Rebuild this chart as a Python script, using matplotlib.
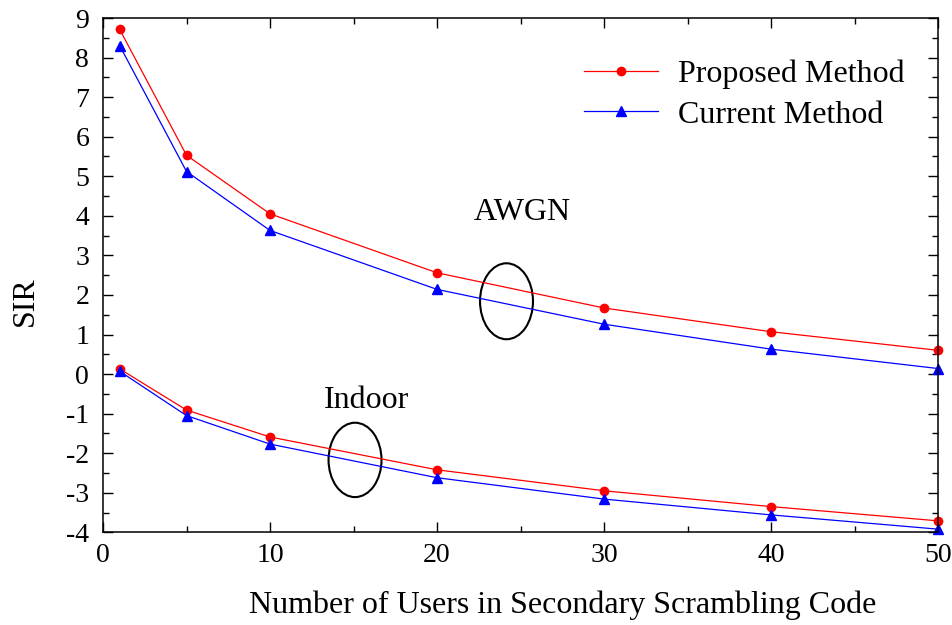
"""SIR vs number of users in the secondary scrambling code, AWGN and indoor channels."""
from matplotlib import pyplot as plt
from matplotlib.patches import Ellipse
from matplotlib.ticker import MultipleLocator

plt.rcParams['font.family'] = ['Liberation Serif', 'DejaVu Serif']
plt.rcParams['axes.unicode_minus'] = False

USERS = [1, 5, 10, 20, 30, 40, 50]
AWGN_PROPOSED = [8.71, 5.53, 4.05, 2.56, 1.67, 1.07, 0.60]
AWGN_CURRENT = [8.30, 5.12, 3.63, 2.14, 1.26, 0.63, 0.14]
INDOOR_PROPOSED = [0.13, -0.91, -1.59, -2.42, -2.95, -3.35, -3.71]
INDOOR_CURRENT = [0.07, -1.05, -1.77, -2.62, -3.16, -3.56, -3.92]
LABELS = ['Proposed Method', 'Current Method']

fig = plt.figure(figsize=(9.53, 6.25), dpi=100)
ax = fig.add_axes([0.1081, 0.1483, 0.8762, 0.8229])

red = dict(color='#ff0000', marker='o', markersize=6, linewidth=0.9, clip_on=False)
blue = dict(color='#0000ff', marker='^', markersize=6.5, linewidth=0.9, clip_on=False)
ax.plot(USERS, AWGN_PROPOSED, label=LABELS[0], **red)
ax.plot(USERS, AWGN_CURRENT, label=LABELS[1], **blue)
ax.plot(USERS, INDOOR_PROPOSED, **red)
ax.plot(USERS, INDOOR_CURRENT, **blue)

# circles marking each group of curves
ax.add_patch(Ellipse((24.16, 1.84), 3.17, 1.92, fill=False, linewidth=1.5, color='black'))
ax.add_patch(Ellipse((15.09, -2.17), 3.17, 1.88, fill=False, linewidth=1.5, color='black'))
ax.text(25.1, 4.09, 'AWGN', fontsize=23, ha='center', va='center')
ax.text(15.8, -0.66, 'Indoor', fontsize=23, ha='center', va='center')

ax.set_xlim(0, 50)
ax.set_ylim(-4, 9)
ax.xaxis.set_major_locator(MultipleLocator(10))
ax.xaxis.set_minor_locator(MultipleLocator(5))
ax.yaxis.set_major_locator(MultipleLocator(1))
ax.yaxis.set_minor_locator(MultipleLocator(0.5))
ax.tick_params(which='both', direction='in', top=True, right=True, width=1.0)
ax.tick_params(which='major', length=7.2, labelsize=20)
ax.tick_params(which='minor', length=4.3)
ax.tick_params(axis='x', pad=8)
ax.tick_params(axis='y', pad=10)
for s in ax.spines.values():
    s.set_linewidth(1.1)

ax.set_xlabel('Number of Users in Secondary Scrambling Code', fontsize=23)
ax.xaxis.label.set_va('center')
ax.xaxis.set_label_coords(0.55, -0.142)
ax.set_ylabel('SIR', fontsize=23)
ax.yaxis.set_label_coords(-0.076, 0.45)

leg = ax.legend(loc='upper right', bbox_to_anchor=(0.995, 0.975), frameon=False,
                fontsize=23, handlelength=2.3, handletextpad=0.65, labelspacing=0.35)

fig.savefig('out.png', dpi=100)
